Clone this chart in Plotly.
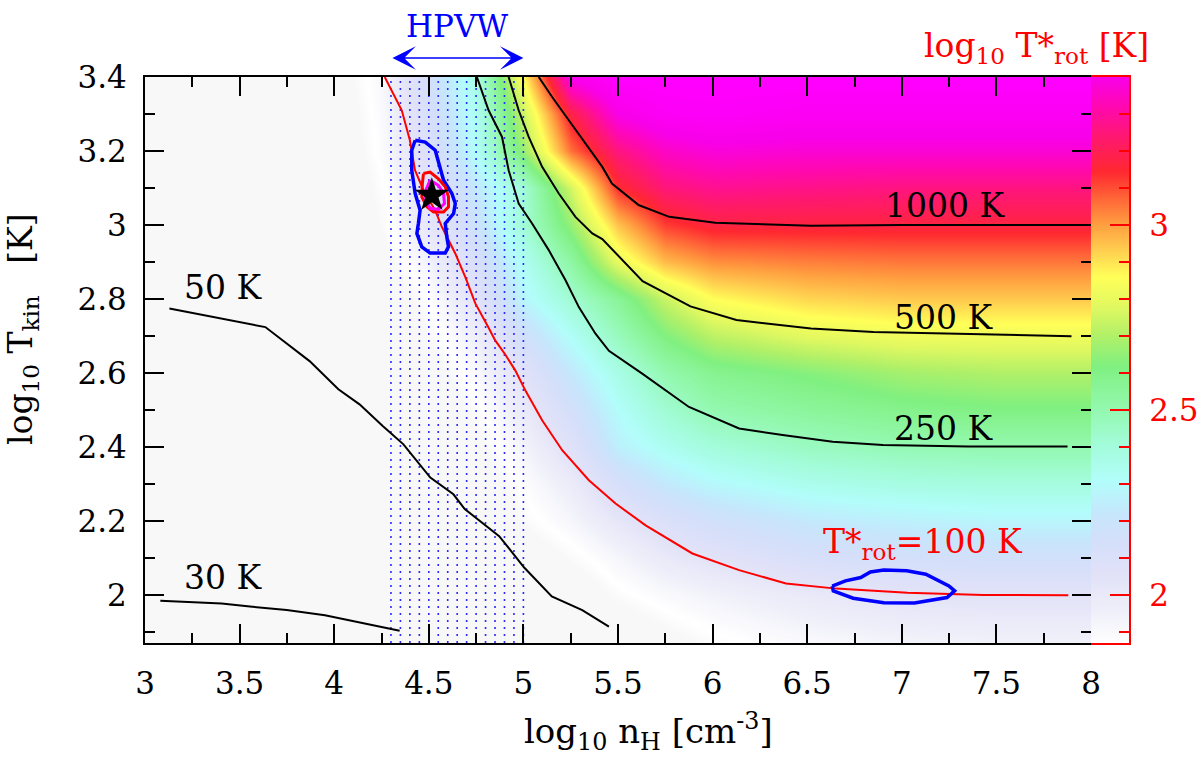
import plotly.graph_objects as go

# ---------------- data ----------------
# grid nodes of the colour map: x = log10 nH, y = log10 Tkin, z = log10 T*rot (colour value)
nH_nodes = [3.0, 3.5, 4.0, 4.25, 4.5, 4.75, 5.0, 5.25, 5.5, 5.75, 6.0, 6.5, 7.0, 7.5, 8.0]
Tkin_nodes = [1.87, 2.0, 2.1, 2.2, 2.3, 2.4, 2.5, 2.6, 2.7, 2.8, 2.9, 3.0, 3.1, 3.2, 3.3, 3.4]
logTrot_rows = [
    [1.25, 1.32, 1.36, 1.41, 1.46, 1.52, 1.58, 1.65, 1.73, 1.80, 1.85, 1.90, 1.93, 1.94, 1.94],
    [1.28, 1.35, 1.40, 1.46, 1.52, 1.60, 1.68, 1.76, 1.85, 1.90, 1.94, 2.00, 2.04, 2.05, 2.05],
    [1.30, 1.38, 1.43, 1.50, 1.57, 1.66, 1.76, 1.84, 1.92, 2.00, 2.05, 2.12, 2.15, 2.16, 2.16],
    [1.32, 1.40, 1.46, 1.53, 1.62, 1.72, 1.84, 1.92, 2.02, 2.10, 2.16, 2.23, 2.26, 2.28, 2.28],
    [1.34, 1.42, 1.49, 1.56, 1.66, 1.76, 1.88, 1.98, 2.13, 2.23, 2.29, 2.35, 2.38, 2.39, 2.39],
    [1.36, 1.45, 1.52, 1.60, 1.70, 1.81, 1.93, 2.07, 2.26, 2.34, 2.40, 2.46, 2.49, 2.50, 2.50],
    [1.38, 1.47, 1.55, 1.64, 1.74, 1.85, 1.99, 2.15, 2.31, 2.42, 2.50, 2.55, 2.59, 2.61, 2.61],
    [1.40, 1.49, 1.58, 1.68, 1.79, 1.90, 2.06, 2.23, 2.37, 2.50, 2.58, 2.63, 2.68, 2.70, 2.70],
    [1.42, 1.51, 1.61, 1.72, 1.83, 1.96, 2.16, 2.32, 2.47, 2.62, 2.72, 2.79, 2.82, 2.82, 2.82],
    [1.44, 1.53, 1.64, 1.76, 1.87, 2.05, 2.28, 2.42, 2.56, 2.74, 2.86, 2.92, 2.94, 2.94, 2.94],
    [1.46, 1.55, 1.67, 1.80, 1.94, 2.12, 2.33, 2.53, 2.80, 2.96, 3.02, 3.04, 3.05, 3.05, 3.05],
    [1.48, 1.57, 1.70, 1.84, 2.02, 2.19, 2.41, 2.66, 2.95, 3.12, 3.17, 3.17, 3.17, 3.17, 3.17],
    [1.50, 1.59, 1.72, 1.86, 2.05, 2.23, 2.41, 2.76, 3.14, 3.25, 3.28, 3.27, 3.26, 3.26, 3.26],
    [1.52, 1.61, 1.74, 1.89, 2.10, 2.32, 2.66, 3.06, 3.26, 3.35, 3.38, 3.37, 3.37, 3.37, 3.37],
    [1.54, 1.63, 1.76, 1.90, 2.13, 2.34, 2.74, 3.18, 3.40, 3.46, 3.47, 3.45, 3.45, 3.45, 3.45],
    [1.55, 1.65, 1.78, 1.91, 2.16, 2.37, 2.86, 3.42, 3.50, 3.50, 3.50, 3.50, 3.50, 3.50, 3.50],
]

# contour lines (T*rot levels)
c30_x = [3.081, 3.263, 3.405, 3.567, 3.749, 3.951, 4.134, 4.346]
c30_y = [1.984, 1.981, 1.977, 1.968, 1.959, 1.945, 1.925, 1.903]
c50_x = [3.129, 3.636, 3.870, 4.022, 4.134, 4.255, 4.366, 4.437, 4.508, 4.630, 4.690, 4.872, 5.004, 5.150, 5.311, 5.452]
c50_y = [2.774, 2.724, 2.632, 2.556, 2.515, 2.457, 2.407, 2.362, 2.317, 2.272, 2.232, 2.159, 2.074, 1.996, 1.959, 1.914]
c100_x = [4.267, 4.357, 4.400, 4.427, 4.472, 4.533, 4.569, 4.604, 4.640, 4.693, 4.746, 4.816, 4.851, 4.904,
          4.957, 5.010, 5.099, 5.205, 5.346, 5.487, 5.646, 5.893, 6.140, 6.388, 6.653, 7.030, 7.430, 7.880]
c100_y = [3.400, 3.310, 3.229, 3.148, 3.094, 3.040, 2.995, 2.959, 2.923, 2.859, 2.788, 2.722, 2.688, 2.650,
          2.607, 2.553, 2.472, 2.391, 2.310, 2.247, 2.188, 2.112, 2.067, 2.031, 2.017, 2.006, 2.000, 1.999]
c250_x = [4.754, 4.816, 4.887, 4.922, 4.975, 5.046, 5.134, 5.222, 5.293, 5.381, 5.452, 5.628, 5.875,
          6.140, 6.370, 6.635, 6.900, 7.350, 7.876]
c250_y = [3.400, 3.310, 3.238, 3.148, 3.058, 3.004, 2.932, 2.851, 2.778, 2.706, 2.660, 2.598, 2.508,
          2.450, 2.432, 2.414, 2.405, 2.401, 2.401]
c500_x = [4.922, 4.975, 5.028, 5.099, 5.187, 5.275, 5.364, 5.417, 5.630, 5.883, 6.126, 6.520, 6.850, 7.897]
c500_y = [3.400, 3.310, 3.238, 3.157, 3.085, 3.022, 2.977, 2.962, 2.848, 2.780, 2.743, 2.720, 2.711, 2.699]
c1000_x = [5.081, 5.152, 5.240, 5.329, 5.417, 5.468, 5.609, 5.771, 6.014, 6.520, 7.000, 8.000]
c1000_y = [3.400, 3.346, 3.283, 3.220, 3.157, 3.112, 3.054, 3.022, 3.006, 2.998, 3.000, 3.000]

# fit contours around the best solution and the second solution
blue1_x = [4.428, 4.481, 4.534, 4.560, 4.578, 4.622, 4.640, 4.631, 4.587, 4.595, 4.604, 4.587, 4.507,
           4.463, 4.437, 4.445, 4.454, 4.428, 4.410, 4.410, 4.428]
blue1_y = [3.229, 3.224, 3.202, 3.157, 3.121, 3.085, 3.058, 3.031, 3.004, 2.968, 2.941, 2.924, 2.924,
           2.941, 2.977, 3.004, 3.040, 3.085, 3.148, 3.202, 3.229]
red1_x = [4.472, 4.507, 4.551, 4.587, 4.604, 4.604, 4.578, 4.525, 4.490, 4.463, 4.466, 4.472]
red1_y = [3.139, 3.143, 3.125, 3.103, 3.076, 3.049, 3.035, 3.035, 3.049, 3.076, 3.112, 3.139]
mag1_x = [4.507, 4.551, 4.578, 4.583, 4.551, 4.507, 4.484, 4.484, 4.507]
mag1_y = [3.121, 3.107, 3.085, 3.058, 3.042, 3.045, 3.067, 3.094, 3.121]
blue2_x = [6.632, 6.702, 6.783, 6.834, 6.905, 7.026, 7.127, 7.249, 7.279, 7.239, 7.067, 6.905, 6.743, 6.638, 6.632]
blue2_y = [2.024, 2.038, 2.047, 2.062, 2.067, 2.065, 2.056, 2.024, 2.011, 1.993, 1.978, 1.979, 1.991, 2.011, 2.024]
star_x = [4.516]
star_y = [3.080]

# HPVW density range (dotted lines)
hpvw_lines = [4.30, 4.35, 4.40, 4.45, 4.50, 4.55, 4.60, 4.65, 4.70, 4.75, 4.80, 4.85, 4.90, 4.95, 5.00]
hpvw_range = [4.30, 5.00]

# contour labels
label_text = ["50 K", "30 K", "1000 K", "500 K", "250 K"]
label_x = [3.413, 3.413, 7.227, 7.218, 7.218]
label_y = [2.830, 2.048, 3.052, 2.749, 2.449]
trot_label = "T*<sub>rot</sub>=100 K"
trot_label_x, trot_label_y = 7.11, 2.14

# axes
x_range = [3, 8]
y_range = [1.87, 3.4]
x_ticks = [3, 3.5, 4, 4.5, 5, 5.5, 6, 6.5, 7, 7.5, 8]
x_ticktext = ["3", "3.5", "4", "4.5", "5", "5.5", "6", "6.5", "7", "7.5", "8"]
y_ticks = [2.0, 2.2, 2.4, 2.6, 2.8, 3.0, 3.2, 3.4]
y_ticktext = ["2", "2.2", "2.4", "2.6", "2.8", "3", "3.2", "3.4"]
cb_range = [1.87, 3.4]
cb_ticks = [2.0, 2.5, 3.0]
cb_ticktext = ["2", "2.5", "3"]

# colour scale (value -> colour)
cs_values = [1.20, 1.83, 1.87, 1.95, 2.05, 2.15, 2.22, 2.31, 2.41, 2.51, 2.62, 2.70, 2.78, 2.86, 2.93,
             3.00, 3.07, 3.145, 3.24, 3.32, 3.40, 3.50]
cs_colors = ['#f8f8f8', '#f8f8f8', '#ffffff', '#f0f0fa', '#e2e2f8', '#d4dffa', '#c6e6fc', '#b2fdfb',
             '#a2fcd8', '#92f8ac', '#80f080', '#b0f068', '#e0f860', '#ffff58', '#ffd050', '#ffa040',
             '#ff6838', '#ff2830', '#ff1870', '#ff08b0', '#f800e8', '#ff00ff']

# ---------------- figure ----------------
W, H = 1200, 766
L, R, T, B = 145, 1091, 77, 643
CB_R = 1129
FONT = "DejaVu Serif"
ZMIN, ZMAX = cs_values[0], cs_values[-1]
colorscale = [[(v - ZMIN) / (ZMAX - ZMIN), c] for v, c in zip(cs_values, cs_colors)]

xdom = [L / W, R / W]
ydom = [1 - B / H, 1 - T / H]
px_per_x = (R - L) / (x_range[1] - x_range[0])

fig = go.Figure()
fig.add_trace(go.Heatmap(x=nH_nodes, y=Tkin_nodes, z=logTrot_rows, zmin=ZMIN, zmax=ZMAX,
                         colorscale=colorscale, zsmooth='best', showscale=False, hoverinfo='skip'))

vx, vy = [], []
for xv in hpvw_lines:
    vx += [xv, xv, None]
    vy += [y_range[0], y_range[1], None]
fig.add_trace(go.Scatter(x=vx, y=vy, mode='lines', hoverinfo='skip',
                         line=dict(color='#2a2aff', width=1.6, dash='2px,5px')))

for cx, cy in [(c30_x, c30_y), (c50_x, c50_y), (c250_x, c250_y), (c500_x, c500_y), (c1000_x, c1000_y)]:
    fig.add_trace(go.Scatter(x=cx, y=cy, mode='lines', hoverinfo='skip', line=dict(color='black', width=2)))
fig.add_trace(go.Scatter(x=c100_x, y=c100_y, mode='lines', hoverinfo='skip', line=dict(color='#ff0000', width=2)))
fig.add_trace(go.Scatter(x=blue1_x, y=blue1_y, mode='lines', hoverinfo='skip', line=dict(color='#0000ff', width=3.5)))
fig.add_trace(go.Scatter(x=blue2_x, y=blue2_y, mode='lines', hoverinfo='skip', line=dict(color='#0000ff', width=3.5)))
fig.add_trace(go.Scatter(x=red1_x, y=red1_y, mode='lines', hoverinfo='skip', line=dict(color='#ff0000', width=3)))
fig.add_trace(go.Scatter(x=mag1_x, y=mag1_y, mode='lines', hoverinfo='skip', line=dict(color='#ff00ff', width=3)))
fig.add_trace(go.Scatter(x=star_x, y=star_y, mode='markers', hoverinfo='skip',
                         marker=dict(symbol='star', size=26, color='black', line=dict(width=0))))

# colour bar drawn as its own small heat map
fig.add_trace(go.Heatmap(x=[0, 1], y=cb_range, z=[[cb_range[0], cb_range[0]], [cb_range[1], cb_range[1]]],
                         zmin=ZMIN, zmax=ZMAX, colorscale=colorscale, zsmooth='best', showscale=False,
                         hoverinfo='skip', xaxis='x2', yaxis='y2'))

annotations = []
for t, lx, ly in zip(label_text, label_x, label_y):
    annotations.append(dict(x=lx, y=ly, xref='x', yref='y', text=t, showarrow=False,
                            xanchor='center', yanchor='middle',
                            font=dict(family=FONT, size=33, color='black')))
annotations.append(dict(x=trot_label_x, y=trot_label_y, xref='x', yref='y', text=trot_label, showarrow=False,
                        xanchor='center', yanchor='middle',
                        font=dict(family=FONT, size=33, color='#ff0000')))
# axis titles
annotations.append(dict(x=648 / W, y=1 - 731 / H, xref='paper', yref='paper', showarrow=False,
                        xanchor='center', yanchor='middle',
                        text="log<sub>10</sub> n<sub>H</sub> [cm<sup>-3</sup>]",
                        font=dict(family=FONT, size=34, color='black')))
annotations.append(dict(x=22 / W, y=1 - 329 / H, xref='paper', yref='paper', showarrow=False, textangle=-90,
                        xanchor='center', yanchor='middle',
                        text="log<sub>10</sub> T<sub>kin</sub>   [K]",
                        font=dict(family=FONT, size=33, color='black')))
annotations.append(dict(x=1151 / W, y=1 - 47 / H, xref='paper', yref='paper', showarrow=False,
                        xanchor='right', yanchor='middle',
                        text="log<sub>10</sub> T*<sub>rot</sub> [K]",
                        font=dict(family=FONT, size=33, color='#ff0000')))
# HPVW arrow and text
annotations.append(dict(x=(hpvw_range[0] + hpvw_range[1]) / 2, y=1 - 26 / H, xref='x', yref='paper',
                        xanchor='center', yanchor='middle',
                        text="HPVW", showarrow=False, font=dict(family=FONT, size=31, color='#0000ff')))
annotations.append(dict(x=hpvw_range[1], y=1 - 58 / H, xref='x', yref='paper', text='', showarrow=True,
                        ax=-(hpvw_range[1] - hpvw_range[0]) * px_per_x, ay=0, axref='pixel', ayref='pixel',
                        arrowhead=3, arrowside='end+start', arrowsize=2.6, arrowwidth=1.5,
                        arrowcolor='#0000ff', standoff=0, startstandoff=0))

axis_common = dict(showgrid=False, zeroline=False, showline=True, linecolor='black', linewidth=2,
                   ticks='inside', tickcolor='black', tickwidth=2, ticklen=19, mirror='ticks',
                   tickfont=dict(family=FONT, size=31, color='black'), automargin=False)

fig.update_layout(
    width=W, height=H, margin=dict(l=0, r=0, t=0, b=0),
    paper_bgcolor='white', plot_bgcolor='white', showlegend=False,
    font=dict(family=FONT, size=31, color='black'),
    xaxis=dict(domain=xdom, range=x_range, tickmode='array', tickvals=x_ticks, ticktext=x_ticktext,
               ticklabelstandoff=12,
               minor=dict(tickmode='linear', tick0=3, dtick=0.25, ticks='inside', ticklen=10,
                          tickwidth=2, tickcolor='black'), **axis_common),
    yaxis=dict(domain=ydom, range=y_range, tickmode='array', tickvals=y_ticks, ticktext=y_ticktext,
               ticklabelstandoff=10,
               minor=dict(tickmode='linear', tick0=2.0, dtick=0.1, ticks='inside', ticklen=10,
                          tickwidth=2, tickcolor='black'), **axis_common),
    xaxis2=dict(domain=[R / W, CB_R / W], range=[0, 1], anchor='y2', showline=True, linecolor='#ff0000',
                linewidth=2, mirror=True, showticklabels=False, ticks='', showgrid=False, zeroline=False,
                automargin=False),
    yaxis2=dict(domain=ydom, range=cb_range, anchor='x2', side='right', tickmode='array', tickvals=cb_ticks,
                ticktext=cb_ticktext, ticks='inside', ticklen=19, tickwidth=2, tickcolor='#ff0000',
                tickfont=dict(family=FONT, size=31, color='#ff0000'), showline=True, linecolor='#ff0000',
                linewidth=2, showgrid=False, zeroline=False, automargin=False, ticklabelstandoff=12,
                minor=dict(tickmode='linear', tick0=1.9, dtick=0.1, ticks='inside', ticklen=10,
                           tickwidth=2, tickcolor='#ff0000')),
    annotations=annotations,
)

fig.write_html("out.html", config={'displayModeBar': False},
               post_script="document.body.style.margin='0px';")
